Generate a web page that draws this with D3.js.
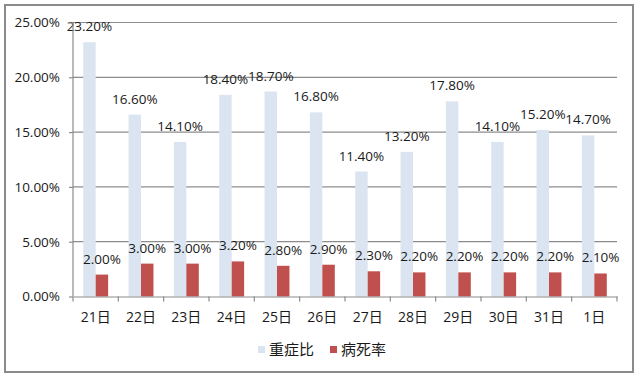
<!DOCTYPE html>
<html>
<head>
<meta charset="utf-8">
<script src="https://d3js.org/d3.v7.min.js"></script>
<style>
body { margin: 0; background: #fff; }
text { font-family: "Open Sans", "Noto Sans CJK SC", sans-serif; fill: #1a1a1a; }
</style>
</head>
<body>
<svg width="640" height="376"></svg>
<script>
const days = ['21日','22日','23日','24日','25日','26日','27日','28日','29日','30日','31日','1日'];
const severe = [23.2,16.6,14.1,18.4,18.7,16.8,11.4,13.2,17.8,14.1,15.2,14.7];
const death = [2.0,3.0,3.0,3.2,2.8,2.9,2.3,2.2,2.2,2.2,2.2,2.1];
const yTicks = [0,5,10,15,20,25];
const seriesNames = ['重症比','病死率'];
const colors = ['#dbe5f1','#c0504d'];

const svg = d3.select('svg');

// outer frame
svg.append('rect')
  .attr('x',5).attr('y',5).attr('width',628).attr('height',367)
  .attr('fill','none').attr('stroke','#8a8a8a').attr('stroke-width',2);

const pL = 73, pR = 617, pT = 22.5, pB = 296.5;
const x = d3.scaleBand().domain(days).range([pL,pR]).padding(0);
const y = d3.scaleLinear().domain([0,25]).range([pB,pT]);
const bw = x.bandwidth()*0.275;

// gridlines
svg.append('g').selectAll('line')
  .data(yTicks.filter(d=>d>0))
  .join('line')
  .attr('x1',pL).attr('x2',pR)
  .attr('y1',d=>y(d)).attr('y2',d=>y(d))
  .attr('stroke','#8c8c8c').attr('stroke-width',1.2);

// bars
const rows = days.map((d,i)=>({day:d, v:[severe[i],death[i]]}));
const g = svg.append('g');
[0,1].forEach(s=>{
  g.selectAll('rect.s'+s)
    .data(rows)
    .join('rect')
    .attr('class','s'+s)
    .attr('x',d=>x(d.day)+x.bandwidth()/2 - bw + s*bw)
    .attr('y',d=>y(d.v[s]))
    .attr('width',bw)
    .attr('height',d=>pB-y(d.v[s]))
    .attr('fill',colors[s]);
  g.selectAll('text.s'+s)
    .data(rows)
    .join('text')
    .attr('class','s'+s)
    .attr('x',d=>x(d.day)+x.bandwidth()/2 - bw/2 + s*bw)
    .attr('y',d=>y(d.v[s]) - 11)
    .attr('text-anchor','middle')
    .attr('font-size',13.5)
    .text(d=>d.v[s].toFixed(2)+'%');
});

// y axis
const ya = svg.append('g').attr('transform','translate('+pL+',0)')
  .call(d3.axisLeft(y).tickValues(yTicks).tickSize(4).tickFormat(d=>d.toFixed(2)+'%'));
ya.selectAll('path,line').attr('stroke','#8c8c8c').attr('stroke-width',1.2);
ya.select('.domain').attr('d','M0,'+pT+'V'+pB);
ya.selectAll('text').attr('font-size',13.5).attr('font-family','"Open Sans", sans-serif').attr('fill','#1a1a1a').attr('x',-13);

// x axis
const xa = svg.append('g').attr('transform','translate(0,'+pB+')')
  .call(d3.axisBottom(x).tickSize(0).tickSizeOuter(0));
xa.select('.domain').attr('stroke','#8c8c8c').attr('stroke-width',1.2);
xa.selectAll('text').attr('font-size',14).attr('font-family','"Open Sans", "Noto Sans CJK SC", sans-serif').attr('fill','#1a1a1a').attr('dy',0).attr('y',25);
xa.append('g').selectAll('line')
  .data(d3.range(days.length+1))
  .join('line')
  .attr('x1',i=>pL+i*x.bandwidth()).attr('x2',i=>pL+i*x.bandwidth())
  .attr('y1',0).attr('y2',5)
  .attr('stroke','#8c8c8c').attr('stroke-width',1.2);

// legend
const lg = svg.append('g');
const lx = [258, 330];
seriesNames.forEach((n,i)=>{
  lg.append('rect').attr('x',lx[i]).attr('y',346).attr('width',7).attr('height',7).attr('fill',colors[i]);
  lg.append('text').attr('x',lx[i]+11).attr('y',355).attr('font-size',15)
    .attr('font-family','"Noto Sans CJK SC", sans-serif').text(n);
});
</script>
</body>
</html>
